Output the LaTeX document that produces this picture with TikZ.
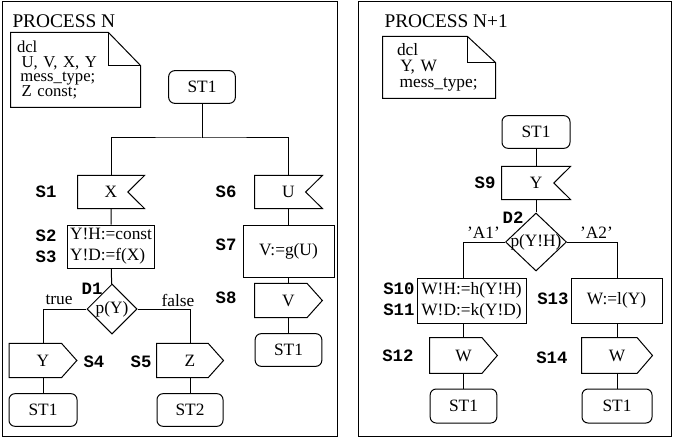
\documentclass[tikz,border=0pt]{standalone}
\usepackage{fontspec}
\setmainfont{Liberation Serif}
\setmonofont{Liberation Mono}
\usetikzlibrary{positioning,shapes.geometric}

\begin{document}
\begin{tikzpicture}[x=0.75pt,y=-0.75pt,line width=0.75pt,
  tx/.style={inner sep=0pt,font=\fontsize{13}{15.7}\selectfont},
  st/.style={tx,draw,rounded corners=4.5pt,minimum width=50pt,minimum height=24.5pt},
  inp/.style={tx,minimum width=50pt,minimum height=24pt,
    append after command={\pgfextra{\draw (\tikzlastnode.north west) -- (\tikzlastnode.north east)
      -- ([xshift=-12.5pt]\tikzlastnode.east) -- (\tikzlastnode.south east) -- (\tikzlastnode.south west) -- cycle;}}},
  outp/.style={tx,minimum width=50pt,minimum height=25pt,
    append after command={\pgfextra{\draw (\tikzlastnode.north west) -- ([xshift=-11.5pt]\tikzlastnode.north east)
      -- (\tikzlastnode.east) -- ([xshift=-11.5pt]\tikzlastnode.south east) -- (\tikzlastnode.south west) -- cycle;}}},
  task/.style={tx,draw,align=left,inner xsep=2pt},
  dec/.style={tx,draw,diamond,minimum width=37.5pt,minimum height=37.5pt},
  lbl/.style={inner sep=0pt,font=\fontsize{13}{15}\selectfont\ttfamily\bfseries},
  ttl/.style={inner sep=0pt,anchor=west,font=\fontsize{14.5}{16}\selectfont},
  note/.style={inner sep=0pt,align=left}]
  \useasboundingbox (0,0) rectangle (673,438);
  % frames
  \draw (2,2) rectangle (337,436);
  \draw (358,2) rectangle (671,436);

  % PROCESS N
  \node[ttl] (pn) at (12,21) {PROCESS N};
  \node[note,font=\fontsize{12.5}{11}\selectfont,inner xsep=4.5pt,text width=87.75pt,minimum height=55.5pt] (nt1) at (75.5,70)
    {dcl\\\hspace{3.5pt}U, V, X, Y\\\hspace{2.5pt}mess\_type;\\\hspace{3.5pt}Z const;};
  \draw (nt1.south west) -- (nt1.north west) -- ([xshift=-24pt]nt1.north east)
    -- ([yshift=-24.75pt]nt1.north east) -- (nt1.south east) -- cycle;
  \draw ([xshift=-24pt]nt1.north east) |- ([yshift=-24.75pt]nt1.north east);

  \node[st] (st1a) at (202,87) {ST1};
  \coordinate (jn1) at (202,138);
  \node[inp,minimum width=49.5pt] (inX) at (111,192) {X};
  \node[inp] (inU) at (288.5,192) {U};
  \node[task,minimum width=64.5pt,minimum height=32.25pt] (task1) at (111,246.5) {Y!H:=const\\Y!D:=f(X)};
  \node[dec] (dec1) at (112,309) {p(Y)};
  \node[outp] (outY) at (43,360.5) {Y};
  \node[outp,minimum width=49.5pt] (outZ) at (190,360.5) {Z};
  \node[st,minimum width=51pt] (st1b) at (43,410) {ST1};
  \node[st,minimum width=49.5pt] (st2) at (190,410) {ST2};
  \node[task,align=center,minimum width=68.25pt,minimum height=39pt] (task2) at (288.5,251) {V:=g(U)};
  \node[outp] (outV) at (288.5,300.5) {V};
  \node[st] (st1c) at (288.5,350) {ST1};

  \node[lbl,anchor=east] (s1) at (57,192) {S1};
  \node[lbl,anchor=east] (s2) at (57,236) {S2};
  \node[lbl,anchor=east] (s3) at (57,257) {S3};
  \node[lbl,anchor=east] (d1) at (103,289) {D1};
  \node[lbl,anchor=west] (s4) at (83,362) {S4};
  \node[lbl,anchor=east] (s5) at (152,362) {S5};
  \node[lbl,anchor=east] (s6) at (237,192) {S6};
  \node[lbl,anchor=east] (s7) at (237,245) {S7};
  \node[lbl,anchor=east] (s8) at (237,298) {S8};
  \node[tx] (tru) at (59,300) {true};
  \node[tx] (fls) at (178,300) {false};

  \draw (st1a) -- (jn1);
  \draw (inX) |- (jn1) -| (inU);
  \draw (inX) -- (task1) -- (dec1);
  \draw (dec1) -| (outY);
  \draw (dec1) -| (outZ);
  \draw (outY) -- (st1b);
  \draw (outZ) -- (st2);
  \draw (inU) -- (task2) -- (outV) -- (st1c);

  % PROCESS N+1
  \node[ttl] (pn1) at (384,21) {PROCESS N+1};
  \node[note,font=\fontsize{13}{12}\selectfont,inner xsep=10.5pt,text width=63pt,minimum height=45.75pt] (nt2) at (439,67.5)
    {dcl\\\hspace{2.5pt}Y, W\\\hspace{2pt}mess\_type;};
  \draw (nt2.south west) -- (nt2.north west) -- ([xshift=-21pt]nt2.north east)
    -- ([yshift=-19.5pt]nt2.north east) -- (nt2.south east) -- cycle;
  \draw ([xshift=-21pt]nt2.north east) |- ([yshift=-19.5pt]nt2.north east);

  \node[st,minimum width=51pt] (st1d) at (536,132) {ST1};
  \node[inp,minimum width=51pt] (inY) at (536,183) {Y};
  \node[dec,minimum width=45.75pt,minimum height=43.5pt,inner sep=-3pt] (dec2) at (536,242) {p(Y!H)};
  \node[task,minimum width=81.75pt,minimum height=33.75pt] (task3) at (471.5,300.5) {W!H:=h(Y!H)\\W!D:=k(Y!D)};
  \node[task,align=center,minimum width=68.25pt,minimum height=33.75pt] (task4) at (616.5,300.5) {W:=l(Y)};
  \node[outp,minimum height=26pt] (outW1) at (463.5,355.5) {W};
  \node[outp,minimum height=26pt,minimum width=52.5pt] (outW2) at (617,355.5) {W};
  \node[st,minimum height=25.5pt] (st1e) at (463.5,406) {ST1};
  \node[st,minimum height=25.5pt,minimum width=52.5pt] (st1f) at (617,406) {ST1};

  \node[lbl,anchor=east] (s9) at (496,183) {S9};
  \node[lbl,anchor=east] (d2) at (524,218) {D2};
  \node[lbl,anchor=east] (s10) at (415,289) {S10};
  \node[lbl,anchor=east] (s11) at (415,310) {S11};
  \node[lbl,anchor=east] (s12) at (414,356) {S12};
  \node[lbl,anchor=east] (s13) at (569,299) {S13};
  \node[lbl,anchor=east] (s14) at (568,358) {S14};
  \node[tx] (a1) at (483.5,233) {'A1'};
  \node[tx] (a2) at (596.5,233) {'A2'};

  \draw (st1d) -- (inY) -- (dec2);
  \draw (dec2) -| (task3.north -| outW1.north);
  \draw (dec2) -| (task4.north -| outW2.north);
  \draw (task3.south -| outW1.north) -- (outW1) -- (st1e);
  \draw (task4.south -| outW2.north) -- (outW2) -- (st1f);
\end{tikzpicture}
\end{document}
